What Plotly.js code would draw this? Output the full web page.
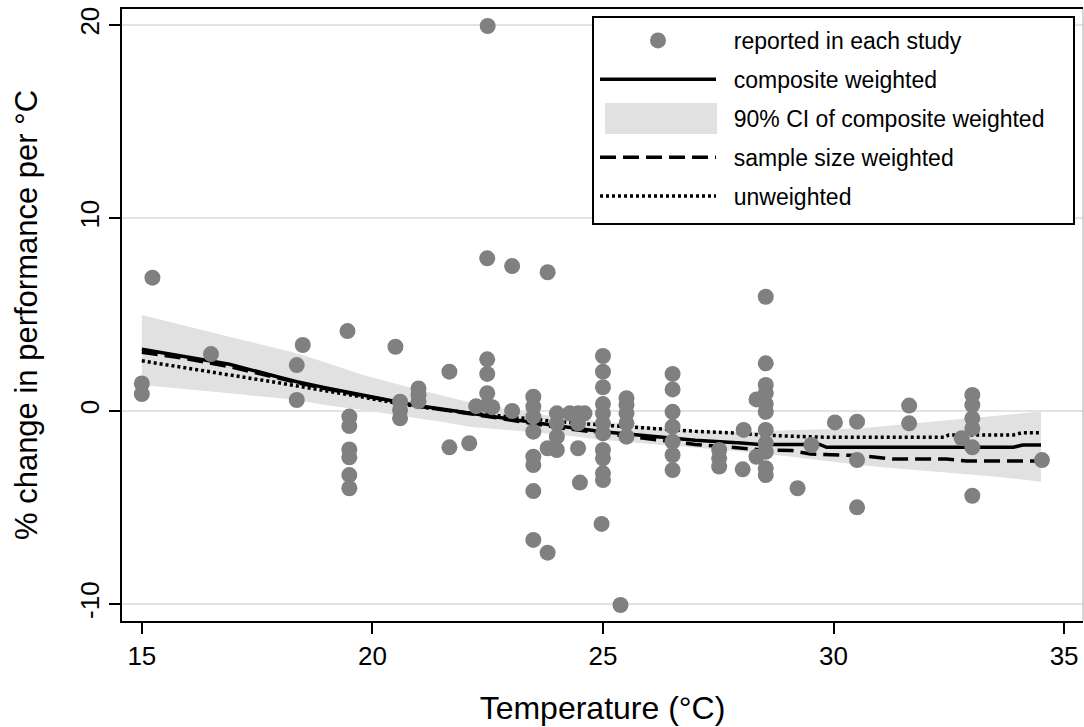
<!DOCTYPE html>
<html>
<head>
<meta charset="utf-8">
<script src="https://cdn.plot.ly/plotly-3.0.1.min.js"></script>
<style>html,body{margin:0;padding:0;background:#fff;}#chart{width:1084px;height:727px;}</style>
</head>
<body>
<div id="chart"></div>
<script>
// Reported study values (temperature °C, % change per °C)
const studyTemp = [15.23, 15.0, 15.0, 16.5, 18.49, 18.36, 18.36, 19.46, 19.5, 19.5, 19.5, 19.5, 19.5, 19.5,
  20.5, 20.6, 20.6, 20.6, 21.0, 21.0, 21.0, 21.67, 21.67, 22.1, 22.5,
  22.49, 23.03, 23.8, 22.49, 22.49, 22.49, 22.25, 22.49, 22.6, 23.03,
  23.49, 23.49, 23.49, 23.49, 23.49, 23.49, 23.49, 23.49, 23.8, 23.8,
  24.0, 24.0, 24.0, 24.0, 24.28, 24.46, 24.6, 24.46, 24.46, 24.5,
  25.0, 25.0, 25.0, 25.0, 25.0, 25.0, 25.0, 25.0, 25.0, 25.0, 25.0, 24.97, 25.38,
  25.51, 25.51, 25.51, 25.51, 25.51,
  26.51, 26.51, 26.51, 26.51, 26.51, 26.51, 26.51,
  27.52, 27.52, 27.52, 28.05, 28.03, 28.33, 28.33,
  28.53, 28.53, 28.53, 28.53, 28.53, 28.53, 28.53, 28.53, 28.53, 28.53, 28.53,
  29.22, 29.52, 30.03, 30.51, 30.51, 30.51, 31.64, 31.64,
  33.01, 33.01, 33.01, 33.01, 32.78, 33.01, 33.01, 34.52];
const studyChange = [6.91, 1.43, 0.88, 2.95, 3.42, 2.38, 0.57, 4.14, -0.29, -0.78, -1.99, -2.4, -3.32, -4.0,
  3.33, 0.48, 0.05, -0.38, 1.17, 0.83, 0.5, 2.04, -1.88, -1.67, 19.95,
  7.91, 7.51, 7.19, 2.68, 1.92, 0.92, 0.25, 0.3, 0.2, 0.0,
  0.74, 0.22, -0.29, -1.07, -2.37, -2.8, -4.15, -6.68, -7.34, -1.93,
  -0.12, -0.64, -1.33, -2.02, -0.12, -0.12, -0.12, -0.64, -1.93, -3.71,
  2.85, 2.04, 1.23, 0.36, -0.12, -0.64, -1.16, -2.02, -2.45, -3.23, -3.58, -5.85, -10.05,
  0.66, 0.31, -0.12, -0.64, -1.33,
  1.92, 1.12, -0.04, -0.81, -1.59, -2.28, -3.06,
  -2.02, -2.45, -2.88, -0.98, -3.02, 0.6, -2.37,
  5.92, 2.47, 1.35, 0.92, 0.36, -0.04, -0.98, -1.67, -2.11, -2.97, -3.32,
  -4.0, -1.76, -0.59, -0.55, -2.54, -4.99, 0.28, -0.64,
  0.83, 0.31, -0.38, -0.9, -1.41, -1.88, -4.39, -2.54];

// Composite weighted fit
const compTemp = [15, 16, 16.9, 18, 18.36, 19, 19.8, 20, 20.89, 21.5, 22.12, 23, 23.63, 24, 25, 26, 26.52, 27, 28, 28.4, 29, 29.7, 29.85, 31, 32, 33, 33.9, 34.1, 34.5];
const compChange = [3.2, 2.78, 2.42, 1.74, 1.52, 1.2, 0.83, 0.74, 0.31, 0.1, -0.12, -0.42, -0.64, -0.76, -1.07, -1.3, -1.41, -1.52, -1.66, -1.73, -1.73, -1.73, -1.88, -1.88, -1.88, -1.88, -1.88, -1.76, -1.76];

// 90% CI of composite weighted
const ciTemp = [15, 15.47, 16, 16.9, 18, 18.36, 19, 19.8, 20.9, 21.5, 22.1, 23, 24, 25, 26, 27, 28, 29, 30, 30.57, 31, 32.15, 33, 33.6, 34.5];
const ciUpper = [4.97, 4.7, 4.4, 3.85, 3.2, 2.99, 2.5, 1.87, 1.17, 0.8, 0.45, 0.05, -0.3, -0.55, -0.8, -0.98, -1.1, -1.0, -0.92, -0.9, -0.8, -0.55, -0.35, -0.2, -0.03];
const ciLower = [1.35, 1.25, 1.15, 0.92, 0.66, 0.57, 0.3, 0.05, -0.35, -0.55, -0.81, -1.0, -1.2, -1.5, -1.7, -1.9, -2.1, -2.35, -2.65, -2.8, -2.9, -3.12, -3.3, -3.42, -3.66];

// Sample size weighted fit
const sampTemp = [15, 16, 16.9, 18, 18.5, 19, 20, 21, 22, 23, 23.6, 24, 25, 26, 26.5, 27, 28, 28.5, 29.1, 29.5, 30.57, 31.3, 32.45, 32.88, 34.5];
const sampChange = [3.04, 2.7, 2.3, 1.65, 1.4, 1.15, 0.7, 0.25, -0.1, -0.45, -0.69, -0.85, -1.16, -1.45, -1.59, -1.73, -1.92, -2.02, -2.05, -2.23, -2.31, -2.49, -2.49, -2.59, -2.59];

// Unweighted fit
const unwTemp = [15, 16, 16.9, 18, 18.36, 19, 19.8, 20, 21, 21.5, 22, 23, 23.6, 24, 25, 26, 26.5, 27, 28, 28.4, 29, 29.85, 31, 32.4, 32.5, 33.9, 34.1, 34.5];
const unwChange = [2.6, 2.2, 1.87, 1.45, 1.3, 1.05, 0.74, 0.66, 0.22, 0.08, -0.08, -0.3, -0.47, -0.55, -0.73, -0.9, -0.98, -1.05, -1.15, -1.24, -1.3, -1.36, -1.36, -1.36, -1.24, -1.24, -1.12, -1.12];

const xTicks = [15, 20, 25, 30, 35];
const yTicks = [-10, 0, 10, 20];
const legendNames = ['reported in each study', 'composite weighted', '90% CI of composite weighted', 'sample size weighted', 'unweighted'];

const FONT = 'Liberation Sans, Arial, sans-serif';
const NB = '\u00a0';
const lead = s => NB + NB + s;

// plot area in px: x 122..1083, y 9..621
const W = 961, H = 612, L = 122, T = 9;
const px = v => (v - L) / W;
const py = v => 1 - (v - T) / H;

const traces = [
  {x: ciTemp, y: ciLower, mode: 'lines', line: {width: 0, color: 'rgba(0,0,0,0)'}, showlegend: false, hoverinfo: 'skip'},
  {x: ciTemp, y: ciUpper, mode: 'lines', fill: 'tonexty', fillcolor: '#e1e1e1', line: {width: 0, color: 'rgba(0,0,0,0)'}, showlegend: false, hoverinfo: 'skip'},
  {x: compTemp, y: compChange, mode: 'lines', name: lead(legendNames[1]), line: {color: '#000', width: 3.5}, legendgroup: 'b', legendrank: 2},
  {x: [null], y: [null], mode: 'lines', name: lead(legendNames[2]), line: {color: 'rgba(0,0,0,0)', width: 0}, legendgroup: 'c', legendrank: 3},
  {x: sampTemp, y: sampChange, mode: 'lines', name: lead(legendNames[3]), line: {color: '#000', width: 3.5, dash: '16px,7px'}, legendgroup: 'd', legendrank: 4},
  {x: unwTemp, y: unwChange, mode: 'lines', name: lead(legendNames[4]), line: {color: '#000', width: 3.5, dash: '3px,3px'}, legendgroup: 'e', legendrank: 5},
  {x: studyTemp, y: studyChange, mode: 'markers', name: lead(legendNames[0]), marker: {color: '#808080', size: 16, line: {width: 0}}, legendgroup: 'a', legendrank: 1}
];

const layout = {
  width: 1084, height: 727,
  margin: {l: 122, r: 1, t: 9, b: 106},
  paper_bgcolor: '#fff', plot_bgcolor: '#fff',
  font: {family: FONT, color: '#000'},
  showlegend: true,
  legend: {
    x: px(595), y: py(19), xanchor: 'left', yanchor: 'top',
    bgcolor: 'rgba(0,0,0,0)', borderwidth: 0,
    font: {family: FONT, size: 23, color: '#000'},
    itemwidth: 116, traceorder: 'grouped', tracegroupgap: 6
  },
  xaxis: {
    range: [14.57, 35.41], tickvals: xTicks, ticktext: xTicks.map(String),
    showline: true, linecolor: '#000', linewidth: 2, mirror: true,
    ticks: 'outside', ticklen: 11, tickwidth: 2, tickcolor: '#000',
    tickfont: {family: FONT, size: 26}, showgrid: false, zeroline: false,
    title: {text: 'Temperature (°C)', font: {family: FONT, size: 32}, standoff: 26}
  },
  yaxis: {
    range: [-10.88, 20.83], tickvals: yTicks, ticktext: yTicks.map(String),
    tickangle: -90,
    showline: true, linecolor: '#000', linewidth: 2,
    ticks: 'outside', ticklen: 11, tickwidth: 2, tickcolor: '#000',
    tickfont: {family: FONT, size: 26}, showgrid: true, gridcolor: '#e3e3e3', gridwidth: 1.5, zeroline: false,
    title: {text: '% change in performance per °C', font: {family: FONT, size: 31}, standoff: 28}
  },
  shapes: [
    {type: 'line', xref: 'paper', yref: 'paper', x0: 1, x1: 1, y0: 0, y1: 1, line: {color: '#b0b0b0', width: 1}},
    // legend frame/background and CI swatch
    {type: 'rect', xref: 'paper', yref: 'paper', layer: 'above', x0: px(593), x1: px(1074), y0: py(224), y1: py(17), fillcolor: '#fff', line: {color: '#000', width: 2}},
    {type: 'rect', xref: 'paper', yref: 'paper', layer: 'above', x0: px(605), x1: px(717), y0: py(134), y1: py(103), fillcolor: '#e1e1e1', line: {width: 0}}
  ]
};

Plotly.newPlot('chart', traces, layout, {displayModeBar: false, staticPlot: true});
</script>
</body>
</html>
